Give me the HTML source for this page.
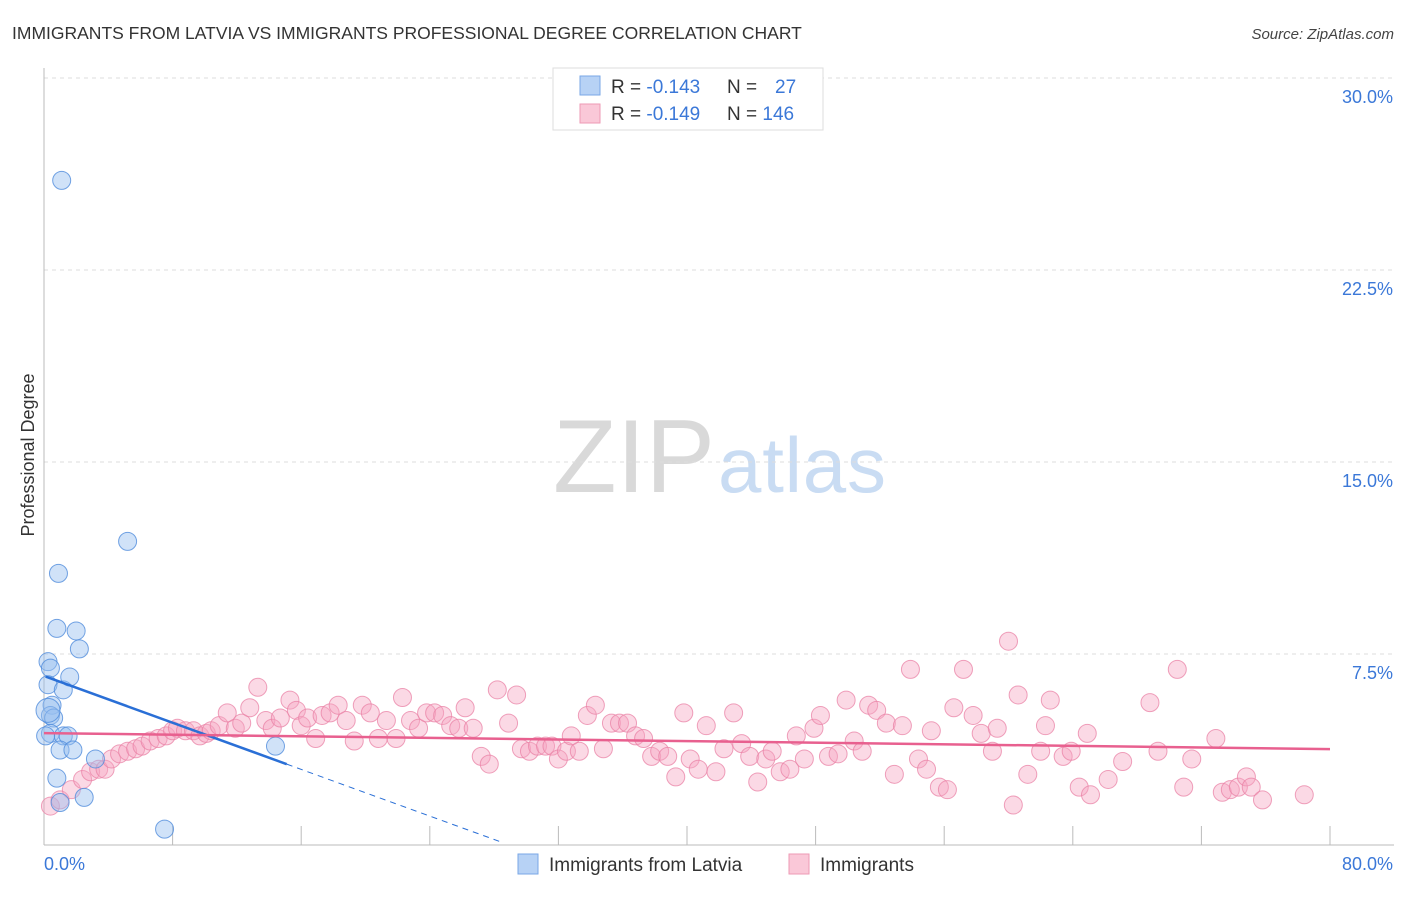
<!DOCTYPE html>
<html><head><meta charset="utf-8"><style>
body{margin:0;background:#fff;font-family:"Liberation Sans",sans-serif;}
svg text{font-family:"Liberation Sans",sans-serif;}
</style></head><body>
<svg id="chart" width="1406" height="892" xmlns="http://www.w3.org/2000/svg">
<text x="12" y="39" font-size="17.5" fill="#333">IMMIGRANTS FROM LATVIA VS IMMIGRANTS PROFESSIONAL DEGREE CORRELATION CHART</text>
<text x="1394" y="39" font-size="15" fill="#444" font-style="italic" text-anchor="end">Source: ZipAtlas.com</text>
<g>
<text x="553" y="492" font-size="104" fill="#d9d9d9" font-family="Liberation Serif,serif" textLength="162">ZIP</text>
<text x="718" y="492" font-size="78" fill="#c9dcf3" textLength="168">atlas</text>
</g>
<g id="grid"></g>
<g id="axes"></g>
<g id="pinkPts"></g>
<g id="bluePts"></g>
<g id="trends"></g>
<text transform="translate(34,455) rotate(-90)" font-size="18" fill="#333" text-anchor="middle">Professional Degree</text>
<g>
<rect x="553" y="68" width="270" height="62" fill="#fff" stroke="#ddd"/>
<rect x="580" y="76" width="20" height="19" fill="#b7d2f5" stroke="#7aa7e6"/>
<rect x="580" y="104" width="20" height="19" fill="#fac8d8" stroke="#ee9ab5"/>
<text x="611" y="93" font-size="19" fill="#333">R = <tspan fill="#3b78d8">-0.143</tspan></text>
<text x="727" y="93" font-size="19" fill="#333">N = <tspan fill="#3b78d8" x="775">27</tspan></text>
<text x="611" y="120" font-size="19" fill="#333">R = <tspan fill="#3b78d8">-0.149</tspan></text>
<text x="727" y="120" font-size="19" fill="#333">N = <tspan fill="#3b78d8">146</tspan></text>
</g>
<g>
<rect x="518" y="854" width="20" height="20" fill="#b7d2f5" stroke="#7aa7e6"/>
<text x="549" y="871" font-size="19" fill="#333">Immigrants from Latvia</text>
<rect x="789" y="854" width="20" height="20" fill="#fac8d8" stroke="#ee9ab5"/>
<text x="820" y="871" font-size="19" fill="#333">Immigrants</text>
</g>
</svg>
<script>
const yTicks=[7.5,15,22.5,30];
const yTickLabels=["7.5%","15.0%","22.5%","30.0%"];
const xTicks=[0,8,16,24,32,40,48,56,64,72,80];
const xTickLabels=["0.0%","80.0%"];
const pinkX=[0.4,1.0,1.7,2.4,2.9,3.4,3.8,4.2,4.7,5.2,5.7,6.1,6.6,7.1,7.6,8.0,8.3,8.8,9.3,9.7,10.1,10.4,10.9,11.4,11.9,12.3,12.8,13.3,13.8,14.2,14.7,15.3,15.7,16.0,16.4,16.9,17.3,17.8,18.3,18.8,19.3,19.8,20.3,20.8,21.3,21.9,22.3,22.8,23.3,23.8,24.3,24.8,25.3,25.8,26.2,26.7,27.2,27.7,28.2,28.9,29.4,29.7,30.2,30.7,31.2,31.6,32.0,32.5,32.8,33.3,33.8,34.3,34.8,35.3,35.8,36.3,36.8,37.3,37.8,38.3,38.8,39.3,39.8,40.2,40.7,41.2,41.8,42.3,42.9,43.4,43.9,44.4,44.9,45.3,45.8,46.4,46.8,47.3,47.9,48.3,48.8,49.4,49.9,50.4,50.9,51.3,51.8,52.4,52.9,53.4,53.9,54.4,54.9,55.2,55.7,56.2,56.6,57.2,57.8,58.3,59.0,59.3,60.0,60.3,60.6,61.2,62.0,62.3,62.6,63.4,63.9,64.4,65.1,64.9,66.2,67.1,68.8,69.3,70.5,70.9,71.4,72.9,73.3,73.8,74.3,74.8,75.1,75.8,78.4];
const pinkY=[1.56,1.8,2.2,2.6,2.9,3.0,3.0,3.4,3.6,3.7,3.8,3.9,4.1,4.2,4.3,4.5,4.6,4.5,4.5,4.3,4.4,4.5,4.7,5.2,4.6,4.8,5.4,6.2,4.9,4.6,5.0,5.7,5.3,4.7,5.0,4.2,5.1,5.2,5.5,4.9,4.1,5.5,5.2,4.2,4.9,4.2,5.8,4.9,4.6,5.2,5.2,5.1,4.7,4.6,5.4,4.6,3.5,3.2,6.1,4.8,5.9,3.8,3.7,3.9,3.9,3.9,3.4,3.7,4.3,3.7,5.1,5.5,3.8,4.8,4.8,4.8,4.3,4.2,3.5,3.7,3.5,2.7,5.2,3.4,3.0,4.7,2.9,3.8,5.2,4.0,3.5,2.5,3.4,3.7,2.9,3.0,4.3,3.4,4.6,5.1,3.5,3.6,5.7,4.1,3.7,5.5,5.3,4.8,2.8,4.7,6.9,3.4,3.0,4.5,2.3,2.2,5.4,6.9,5.1,4.4,3.7,4.6,8.0,1.6,5.9,2.8,3.7,4.7,5.7,3.5,3.7,2.3,2.0,4.4,2.6,3.3,5.6,3.7,6.9,2.3,3.4,4.2,2.1,2.2,2.3,2.7,2.3,1.8,2.0];
const blueX=[1.1,5.2,0.9,0.8,2.0,2.2,0.25,0.4,0.25,1.2,1.6,0.5,0.4,0.6,0.4,1.2,1.5,1.0,1.8,0.8,3.2,2.5,1.0,7.5,14.4,0.1,0.25];
const blueY=[26.0,11.9,10.65,8.5,8.4,7.7,7.2,6.95,6.3,6.1,6.6,5.5,5.1,5.0,4.4,4.3,4.3,3.75,3.75,2.65,3.4,1.9,1.7,0.66,3.9,4.3,5.3];
const blueTrend=[6.64,-0.228];
const pinkTrend=[4.41,-0.0078];

const X0=44,X1=1330,Y0=846,PPY=192/7.5;
function sx(v){return X0+v*(X1-X0)/80;}
function sy(v){return Y0-v*PPY;}
const NS="http://www.w3.org/2000/svg";
function mk(tag,parent,attrs){const e=document.createElementNS(NS,tag);for(const k in attrs)e.setAttribute(k,attrs[k]);parent.appendChild(e);return e;}
const grid=document.getElementById('grid'),axes=document.getElementById('axes');
yTicks.forEach((t,i)=>{
 const l=mk('line',grid,{x1:X0,x2:1394,y1:sy(t),y2:sy(t),stroke:'#ddd','stroke-dasharray':'4,4'});
 
 
 const tx=mk('text',axes,{x:1393,y:sy(t)+25,'font-size':18,fill:'#3b78d8','text-anchor':'end'});
 tx.textContent=yTickLabels[i];
 
 
});
const la=mk('line',axes,{x1:X0,x2:X0,y1:68,y2:845,stroke:'#bbb'});


const ba=mk('line',axes,{x1:X0,x2:1394,y1:845,y2:845,stroke:'#bbb'});


xTicks.forEach(t=>{
 const l=mk('line',axes,{x1:sx(t),x2:sx(t),y1:826,y2:845,stroke:'#bbb'});
 
 
});
const xl0=mk('text',axes,{x:44,y:870,'font-size':18,fill:'#3b78d8'});xl0.textContent=xTickLabels[0];


const xl1=mk('text',axes,{x:1393,y:870,'font-size':18,fill:'#3b78d8','text-anchor':'end'});xl1.textContent=xTickLabels[1];


const pg=document.getElementById('pinkPts');
pinkX.forEach((v,i)=>{
 const c=mk('circle',pg,{cx:sx(v),cy:sy(pinkY[i]),r:9,fill:'rgba(245,165,192,0.42)',stroke:'rgba(234,130,165,0.75)','stroke-width':1});
 
 
});
const bg=document.getElementById('bluePts');
blueX.forEach((v,i)=>{
 const c=mk('circle',bg,{cx:sx(v),cy:sy(blueY[i]),r:i==26?12:9,fill:'rgba(150,190,240,0.45)',stroke:'rgba(80,140,220,0.8)','stroke-width':1});
 
 
});
const tg=document.getElementById('trends');
const bEnd=15.1,bDash=28.5;
const bl=mk('line',tg,{x1:sx(0.1),y1:sy(blueTrend[0]+blueTrend[1]*0.1),x2:sx(bEnd),y2:sy(blueTrend[0]+blueTrend[1]*bEnd),stroke:'#2a6fd6','stroke-width':2.5});


const bd=mk('line',tg,{x1:sx(bEnd),y1:sy(blueTrend[0]+blueTrend[1]*bEnd),x2:sx(bDash),y2:sy(blueTrend[0]+blueTrend[1]*bDash),stroke:'#2a6fd6','stroke-width':1,'stroke-dasharray':'6,5'});


const pl=mk('line',tg,{x1:sx(0),y1:sy(pinkTrend[0]),x2:sx(80),y2:sy(pinkTrend[0]+pinkTrend[1]*80),stroke:'#e8608f','stroke-width':2.5});


</script>
</body></html>
